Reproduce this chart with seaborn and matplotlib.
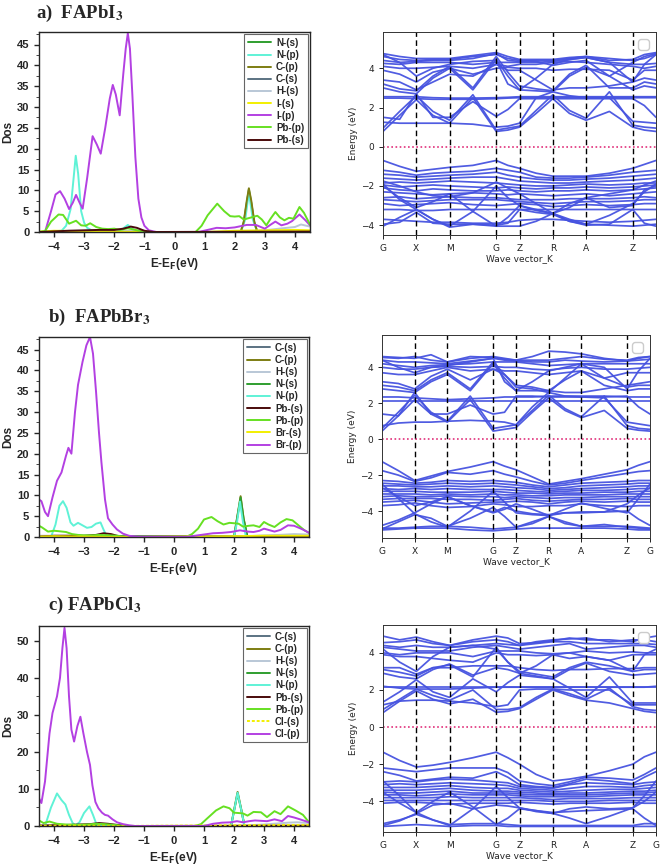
import numpy as np
import pandas as pd
import seaborn as sns
import matplotlib
matplotlib.use("Agg")
import matplotlib.pyplot as plt
from matplotlib.ticker import MultipleLocator

sns.set_style("ticks")
plt.rcParams['font.family'] = ['DejaVu Sans']

# ---------------- DOS data (E-EF in eV, Dos) ----------------
# panel a) FAPbI3
a_Ns_x = [-4.5, 2.2, 2.3, 2.4, 2.47, 2.55, 2.65, 2.75, 4.5]
a_Ns_y = [0, 0, 2.3, 7.0, 10.2, 7.0, 2.3, 0, 0]
a_Np_x = [-4.5, -3.75, -3.6, -3.45, -3.35, -3.28, -3.2, -3.1, -3.0, -2.9, -2.75, -2.5, -1.8, -1.55, -1.35, -1.1,
          2.2, 2.35, 2.47, 2.6, 2.75, 4.5]
a_Np_y = [0, 0.3, 1.5, 5.5, 13, 18.3, 14, 5, 2.2, 1.0, 0.4, 0.3, 0.3, 1.7, 0.5, 0, 0, 3, 9.5, 3, 0, 0]
a_Cp_x = [-4.5, 2.2, 2.3, 2.4, 2.47, 2.55, 2.65, 2.75, 4.5]
a_Cp_y = [0, 0, 2.5, 7.5, 10.5, 7.5, 2.5, 0, 0]
a_Cs_x = [-4.5, 4.5]
a_Cs_y = [0.1, 0.1]
a_Hs_x = [-4.5, -3.5, -2.5, -1.5, -1.0, 2.0, 3.0, 3.6, 4.0, 4.2, 4.5]
a_Hs_y = [0, 0.3, 0.3, 0.3, 0, 0, 0.4, 0.9, 1.2, 1.8, 1.3]
a_Is_x = [-4.5, -4.0, -3.0, -2.0, -1.0, 1.0, 2.0, 3.0, 4.0, 4.5]
a_Is_y = [0.1, 0.3, 0.2, 0.1, 0, 0, 0.3, 0.4, 0.5, 0.4]
a_Ip_x = [-4.5, -4.3, -4.1, -3.95, -3.8, -3.65, -3.5, -3.38, -3.27, -3.15, -3.05, -2.9, -2.72, -2.58, -2.45,
          -2.3, -2.15, -2.05, -1.95, -1.82, -1.7, -1.62, -1.55, -1.48, -1.4, -1.3, -1.2, -1.1, -1.0, -0.85, -0.6,
          0.8, 1.1, 1.4, 1.7, 2.0, 2.4, 2.7, 3.0, 3.2, 3.35, 3.55, 3.75, 3.9, 4.15, 4.35, 4.5]
a_Ip_y = [0, 0, 5.0, 9.0, 9.8, 8.0, 5.5, 7.0, 8.9, 7.0, 5.6, 13, 23.0, 21.0, 18.8,
          25, 32, 35.3, 33, 28.0, 38, 44, 47.7, 44, 33, 18, 8, 3.5, 1.5, 0.4, 0,
          0, 0.5, 1.0, 0.9, 1.1, 1.7, 1.7, 0.8, 1.8, 2.5, 1.6, 2.0, 2.6, 4.2, 2.8, 1.6]
a_Pbp_x = [-4.5, -4.3, -4.1, -3.85, -3.7, -3.5, -3.27, -3.1, -2.95, -2.8, -2.6, -2.4, -2.2, -2.0, -1.8, -1.55,
           -1.3, -1.0, -0.7, 0.7, 0.9, 1.1, 1.42, 1.65, 1.85, 2.0, 2.15, 2.3, 2.5, 2.75, 2.9, 3.05, 3.2, 3.35,
           3.5, 3.65, 3.8, 3.95, 4.15, 4.3, 4.5]
a_Pbp_y = [0, 0.2, 2.5, 4.2, 4.1, 2.0, 2.7, 1.6, 1.5, 2.1, 1.2, 0.8, 0.7, 0.8, 0.5, 0.9,
           0.5, 0.1, 0, 0, 1.5, 4.0, 6.8, 5.0, 3.8, 3.7, 3.8, 3.0, 3.4, 3.9, 3.0, 1.6, 3.3, 4.8,
           3.5, 2.8, 3.4, 3.2, 6.0, 4.6, 1.8]
a_Pbs_x = [-4.5, -3.5, -3.0, -2.5, -2.0, -1.7, -1.45, -1.25, -1.0, -0.7, 4.5]
a_Pbs_y = [0, 0.3, 0.4, 0.5, 0.5, 0.8, 1.3, 1.0, 0.3, 0, 0.1]

# panel b) FAPbBr3
b_Cs_x = [-4.5, 4.5]
b_Cs_y = [0.15, 0.15]
b_Cp_x = [-4.5, 2.0, 2.1, 2.22, 2.32, 2.45, 4.5]
b_Cp_y = [0, 0, 4.5, 9.8, 4.5, 0, 0]
b_Hs_x = [-4.5, -3.5, -2.0, -1.5, 2.0, 3.0, 3.5, 4.0, 4.5]
b_Hs_y = [0.3, 0.3, 0.2, 0, 0, 0.4, 0.5, 0.7, 0.6]
b_Ns_x = [-4.5, 2.0, 2.1, 2.22, 2.32, 2.45, 4.5]
b_Ns_y = [0, 0, 4.3, 9.5, 4.3, 0, 0]
b_Np_x = [-4.5, -4.1, -3.95, -3.82, -3.7, -3.58, -3.45, -3.35, -3.2, -3.05, -2.9, -2.75, -2.6, -2.45, -2.35,
          -2.25, -2.1, 2.0, 2.1, 2.2, 2.3, 2.4, 4.5]
b_Np_y = [0, 0, 3.0, 7.5, 8.6, 7.0, 3.5, 2.7, 3.4, 2.8, 2.2, 2.4, 3.2, 3.5, 1.8, 0.3, 0, 0, 3.5, 8.5, 3.5, 0, 0]
b_Pbs_x = [-4.5, -4.0, -3.0, -2.6, -2.35, -2.1, -1.9, -1.6, 4.5]
b_Pbs_y = [0.1, 0.3, 0.3, 0.5, 0.9, 0.7, 0.3, 0, 0.1]
b_Pbp_x = [-4.5, -4.4, -4.2, -4.0, -3.85, -3.6, -3.4, -3.2, -3.0, -2.7, -2.5, -2.2, -1.9, -1.5, 0.4, 0.6, 0.8,
           1.0, 1.25, 1.45, 1.65, 1.85, 2.0, 2.15, 2.3, 2.5, 2.65, 2.85, 3.0, 3.15, 3.35, 3.55, 3.75, 3.95, 4.15,
           4.35, 4.5]
b_Pbp_y = [2.7, 2.3, 1.3, 1.5, 1.4, 1.2, 0.7, 0.5, 0.4, 0.4, 0.5, 0.4, 0.3, 0, 0, 0.7, 2.0,
           4.2, 4.8, 3.8, 3.0, 3.4, 3.3, 3.2, 2.5, 2.7, 2.8, 2.4, 3.6, 3.0, 2.4, 3.5, 4.3, 4.0, 2.8,
           1.6, 1.0]
b_Brs_x = [-4.5, -4.0, -3.0, -2.0, 2.0, 3.0, 4.5]
b_Brs_y = [0.1, 0.2, 0.1, 0, 0.2, 0.3, 0.3]
b_Brp_x = [-4.5, -4.42, -4.3, -4.2, -4.05, -3.9, -3.75, -3.6, -3.52, -3.42, -3.3, -3.2, -3.05, -2.92, -2.8, -2.7,
           -2.6, -2.5, -2.42, -2.3, -2.2, -2.05, -1.9, -1.7, -1.5, -1.2, 0.4, 0.7, 1.0, 1.3, 1.6, 1.9, 2.2,
           2.45, 2.65, 2.85, 3.0, 3.2, 3.35, 3.55, 3.8, 4.0, 4.2, 4.35, 4.5]
b_Brp_y = [9.0, 8.6, 6.0, 5.0, 9.5, 13.5, 15.5, 19.5, 21.4, 20.0, 30, 36.5, 42, 46, 48, 44,
           35, 25, 18, 9, 4.5, 3.0, 1.8, 0.8, 0.3, 0, 0, 0.3, 0.6, 0.9, 1.0, 1.2, 1.6,
           1.3, 1.2, 1.5, 2.0, 1.6, 1.3, 1.7, 2.8, 2.7, 2.1, 1.6, 1.0]

# panel c) FAPbCl3
c_Cs_x = [-4.5, 4.5]
c_Cs_y = [0.1, 0.1]
c_Cp_x = [-4.5, 1.9, 2.0, 2.12, 2.25, 2.35, 4.5]
c_Cp_y = [0, 0, 4.2, 9.2, 4.2, 0, 0]
c_Hs_x = [-4.5, -3.5, -2.0, -1.5, 2.0, 3.0, 3.8, 4.1, 4.5]
c_Hs_y = [0.2, 0.3, 0.2, 0, 0, 0.4, 0.9, 1.0, 0.8]
c_Ns_x = [-4.5, 1.9, 2.0, 2.12, 2.25, 2.35, 4.5]
c_Ns_y = [0, 0, 4.0, 8.8, 4.0, 0, 0]
c_Np_x = [-4.5, -4.3, -4.1, -3.9, -3.75, -3.62, -3.5, -3.38, -3.28, -3.15, -3.0, -2.82, -2.7, -2.6, -2.52,
          1.9, 2.0, 2.12, 2.25, 2.35, 4.5]
c_Np_y = [0, 0, 5.0, 8.8, 7.0, 5.8, 3.0, 0.8, 0.2, 1.0, 3.5, 5.3, 3.0, 0.8, 0, 0, 4.0, 9.0, 4.0, 0, 0]
c_Pbs_x = [-4.5, -3.5, -2.8, -2.5, -2.2, -1.9, -1.5, 4.5]
c_Pbs_y = [0.1, 0.3, 0.5, 0.8, 0.6, 0.3, 0, 0.1]
c_Pbp_x = [-4.5, -4.35, -4.15, -3.9, -3.6, -3.2, -2.9, -2.6, -2.3, -2.0, -1.6, 0.7, 0.9, 1.1, 1.4, 1.65, 1.85,
           2.0, 2.15, 2.3, 2.45, 2.65, 2.9, 3.1, 3.35, 3.55, 3.8, 4.05, 4.3, 4.5]
c_Pbp_y = [1.5, 0.8, 1.2, 0.6, 0.4, 0.3, 0.4, 0.6, 0.5, 0.3, 0, 0, 0.5, 2.0, 4.2, 5.3, 4.8,
           3.6, 3.5, 3.4, 2.8, 3.8, 3.7, 2.4, 4.0, 3.2, 5.3, 4.2, 3.0, 1.0]
c_Cls_x = [-4.5, -3.0, -2.0, 2.0, 4.5]
c_Cls_y = [0.1, 0.1, 0, 0.2, 0.3]
c_Clp_x = [-4.5, -4.42, -4.3, -4.15, -4.05, -3.9, -3.8, -3.72, -3.65, -3.58, -3.5, -3.42, -3.33, -3.22, -3.12,
           -3.02, -2.9, -2.8, -2.72, -2.62, -2.52, -2.4, -2.3, -2.2, -2.05, -1.9, -1.7, -1.5, -1.3,
           1.0, 1.3, 1.6, 1.9, 2.1, 2.3, 2.5, 2.7, 2.9, 3.1, 3.35, 3.6, 3.8, 4.0, 4.2, 4.5]
c_Clp_y = [7.5, 6.2, 12, 25, 30.5, 35, 40, 48, 53.5, 48, 35, 26, 22.8, 27, 29.5,
           25, 20, 16.5, 11, 6.5, 4.8, 3.6, 3.0, 2.8, 1.8, 1.0, 0.5, 0.2, 0,
           0, 0.6, 0.9, 1.0, 1.3, 1.0, 1.3, 1.5, 1.4, 1.3, 1.8, 1.3, 2.7, 2.3, 1.8, 1.0]

# ---------------- band structure data ----------------
# k path G-X-M-G-Z-R-A-Z-G (with midpoints)
k_grid = [0, 0.5, 1, 1.5, 2, 2.7, 3.4, 3.75, 4.1, 4.6, 5.1, 5.6, 6.1, 6.8, 7.5, 7.85, 8.2]
hs_pos = [0, 1, 2, 3.4, 4.1, 5.1, 6.1, 7.5, 8.2]
hs_labels = ["G", "X", "M", "G", "Z", "R", "A", "Z", "G"]

bands_a = [
    [0.78, 1.6, 2.4, 1.6, 1.2, 2.5, 0.78, 0.85, 1.0, 1.7, 2.45, 1.7, 1.35, 1.8, 1.0, 0.85, 0.78],
    [0.95, 1.8, 2.6, 1.8, 1.35, 2.65, 0.85, 0.95, 1.05, 1.85, 2.65, 1.85, 1.45, 2.8, 1.1, 1.0, 0.95],
    [1.25, 1.2, 1.2, 1.2, 1.2, 1.15, 1.0, 1.05, 1.2, 2.5, 2.8, 2.6, 2.5, 2.5, 1.3, 1.25, 1.2],
    [1.5, 1.4, 2.7, 1.5, 1.5, 2.3, 1.55, 1.9, 2.45, 2.45, 2.45, 2.45, 2.45, 2.45, 2.45, 2.1, 1.5],
    [2.48, 2.48, 2.45, 2.42, 2.42, 2.42, 2.45, 2.48, 2.5, 2.5, 2.5, 2.5, 2.5, 2.5, 2.5, 2.5, 2.5],
    [2.55, 2.55, 2.55, 2.5, 2.48, 2.48, 2.5, 2.52, 2.55, 2.55, 2.55, 2.55, 2.55, 2.55, 2.55, 2.55, 2.55],
    [3.0, 2.8, 2.7, 3.5, 4.0, 2.9, 4.45, 3.6, 2.9, 2.85, 2.8, 3.6, 4.05, 3.6, 2.9, 3.1, 3.0],
    [3.2, 2.95, 2.85, 3.6, 4.1, 3.0, 4.6, 3.8, 3.1, 2.95, 2.85, 3.7, 4.15, 3.0, 3.0, 3.3, 3.2],
    [3.4, 3.3, 2.9, 3.3, 3.7, 3.6, 4.2, 3.9, 3.9, 3.4, 2.9, 3.0, 3.0, 3.1, 3.3, 3.5, 3.4],
    [3.9, 3.7, 3.3, 3.8, 4.0, 3.7, 4.0, 4.05, 4.0, 4.0, 3.9, 3.95, 3.95, 3.9, 3.4, 3.9, 3.9],
    [4.1, 4.0, 4.0, 4.05, 4.1, 4.0, 4.2, 4.1, 4.2, 4.2, 4.3, 4.35, 4.3, 4.2, 4.1, 4.0, 4.1],
    [4.25, 4.2, 4.3, 4.3, 4.3, 4.2, 4.3, 4.3, 4.3, 4.3, 4.35, 4.45, 4.55, 4.3, 4.2, 4.2, 4.25],
    [4.4, 4.3, 4.35, 4.4, 4.4, 4.5, 4.75, 4.4, 4.35, 4.4, 4.4, 4.5, 4.6, 4.5, 4.4, 4.5, 4.7],
    [4.6, 4.45, 4.4, 4.45, 4.45, 4.6, 4.7, 4.5, 4.4, 4.35, 4.15, 4.3, 4.4, 3.6, 4.3, 4.6, 4.75],
    [4.75, 4.6, 4.5, 4.5, 4.5, 4.65, 4.8, 4.6, 4.45, 4.45, 4.45, 4.55, 4.6, 4.4, 4.45, 4.7, 4.8],
    [4.7, 4.3, 3.6, 4.0, 4.2, 4.35, 4.4, 3.2, 2.9, 3.5, 4.2, 4.45, 4.55, 4.3, 3.3, 4.2, 4.7],
    [-0.70, -1.0, -1.25, -1.15, -1.05, -0.95, -0.70, -0.95, -1.10, -1.35, -1.50, -1.50, -1.50, -1.35, -1.10, -0.90, -0.70],
    [-1.20, -1.30, -1.45, -1.35, -1.30, -1.25, -1.10, -1.20, -1.30, -1.55, -1.60, -1.60, -1.55, -1.45, -1.30, -1.25, -1.20],
    [-1.40, -1.45, -1.55, -1.50, -1.45, -1.40, -1.30, -1.45, -1.55, -1.65, -1.70, -1.70, -1.65, -1.60, -1.50, -1.45, -1.40],
    [-1.60, -1.65, -1.70, -1.65, -1.60, -1.55, -1.55, -1.65, -1.75, -1.80, -1.85, -1.85, -1.80, -1.75, -1.70, -1.65, -1.60],
    [-1.85, -1.80, -1.85, -1.80, -1.75, -1.80, -1.85, -1.90, -1.95, -2.00, -2.00, -1.95, -1.90, -1.95, -1.90, -1.85, -1.85],
    [-1.95, -2.05, -2.00, -1.95, -2.00, -2.05, -2.10, -2.05, -2.10, -2.15, -2.10, -2.10, -2.05, -2.10, -2.05, -2.00, -1.95],
    [-2.10, -2.20, -2.25, -2.15, -2.20, -2.25, -2.25, -2.20, -2.25, -2.30, -2.25, -2.25, -2.20, -2.25, -2.20, -2.15, -2.10],
    [-2.30, -2.35, -2.40, -2.45, -2.40, -2.35, -2.40, -2.45, -2.40, -2.45, -2.50, -2.45, -2.40, -2.50, -2.40, -2.35, -2.30],
    [-1.90, -2.70, -3.20, -3.70, -4.05, -3.30, -2.00, -2.60, -3.00, -3.20, -3.40, -3.70, -3.95, -3.50, -2.90, -2.30, -1.90],
    [-2.00, -2.60, -3.10, -2.80, -2.40, -3.30, -4.05, -3.60, -3.00, -3.25, -3.40, -3.10, -2.60, -3.10, -3.00, -2.20, -2.00],
    [-4.05, -3.60, -3.20, -3.70, -4.10, -3.95, -4.00, -3.90, -3.20, -3.35, -3.45, -3.80, -4.00, -3.95, -3.20, -3.90, -4.05],
    [-3.95, -3.85, -3.35, -3.90, -3.95, -3.95, -4.05, -4.05, -4.05, -3.80, -3.40, -3.80, -3.95, -4.00, -4.05, -4.00, -3.95],
    [-3.70, -3.75, -3.80, -3.85, -3.85, -3.90, -3.90, -3.85, -3.75, -3.70, -3.70, -3.75, -3.80, -3.85, -3.80, -3.75, -3.70],
    [-3.20, -3.20, -3.25, -3.25, -3.20, -3.20, -3.20, -3.20, -3.20, -3.20, -3.20, -3.20, -3.20, -3.20, -3.20, -3.20, -3.20],
    [-2.70, -2.75, -2.80, -2.75, -2.70, -2.70, -2.70, -2.75, -2.80, -2.85, -2.90, -2.85, -2.80, -2.80, -2.75, -2.70, -2.70],
    [-2.60, -2.55, -2.65, -2.60, -2.55, -2.60, -2.60, -2.65, -2.70, -2.70, -2.70, -2.65, -2.65, -2.65, -2.60, -2.55, -2.60],
    [-1.75, -2.00, -2.30, -2.50, -2.55, -2.35, -1.80, -2.10, -2.40, -2.90, -3.40, -2.90, -2.60, -2.40, -2.20, -1.95, -1.75],
    [-2.90, -3.00, -2.95, -2.90, -2.85, -2.95, -3.00, -2.95, -2.90, -2.95, -3.05, -3.00, -2.95, -3.00, -2.95, -2.90, -2.90],
]

bands_b = [
    [0.45, 1.3, 2.2, 1.4, 0.95, 2.2, 0.45, 0.55, 0.65, 1.5, 2.3, 1.6, 1.2, 1.6, 0.6, 0.5, 0.45],
    [0.6, 1.5, 2.45, 1.5, 1.0, 2.4, 0.6, 0.7, 0.8, 1.6, 2.45, 1.7, 1.25, 2.4, 0.75, 0.6, 0.55],
    [0.75, 0.9, 0.95, 0.95, 1.0, 1.05, 1.0, 0.95, 0.8, 1.8, 2.6, 2.4, 2.35, 2.3, 0.95, 0.85, 0.75],
    [1.4, 1.3, 2.6, 1.4, 1.4, 1.9, 1.4, 1.5, 2.4, 2.4, 2.35, 2.35, 2.35, 2.35, 2.4, 1.8, 1.4],
    [2.15, 2.15, 2.15, 2.15, 2.15, 2.15, 2.15, 2.15, 2.15, 2.15, 2.15, 2.15, 2.15, 2.15, 2.15, 2.15, 2.15],
    [2.35, 2.35, 2.3, 2.25, 2.2, 2.25, 2.3, 2.35, 2.35, 2.35, 2.4, 2.4, 2.4, 2.4, 2.35, 2.35, 2.35],
    [2.8, 2.7, 2.6, 3.2, 3.6, 2.7, 4.2, 3.4, 2.7, 2.7, 2.7, 3.3, 3.8, 3.0, 2.7, 2.8, 2.8],
    [3.0, 2.9, 2.7, 3.3, 3.7, 2.8, 4.3, 3.6, 2.9, 2.8, 2.6, 3.4, 4.2, 3.4, 2.9, 3.0, 3.0],
    [3.2, 3.1, 2.8, 3.5, 3.9, 3.3, 3.9, 3.6, 3.0, 2.9, 2.7, 2.6, 2.6, 2.8, 3.0, 3.1, 3.2],
    [3.7, 3.6, 3.6, 3.8, 4.0, 3.8, 3.9, 3.8, 3.8, 3.7, 3.6, 3.7, 3.8, 3.4, 3.7, 3.7, 3.7],
    [4.0, 3.9, 3.9, 4.0, 4.05, 4.0, 4.05, 4.0, 4.0, 3.9, 3.85, 3.95, 4.0, 3.9, 3.9, 3.95, 4.0],
    [4.2, 4.1, 4.0, 4.1, 4.15, 4.2, 4.3, 4.3, 4.3, 4.2, 4.1, 4.15, 4.2, 4.2, 4.2, 4.2, 4.2],
    [4.4, 4.3, 4.3, 4.25, 4.2, 4.35, 4.5, 4.4, 4.35, 4.3, 4.3, 4.4, 4.35, 4.3, 4.35, 4.4, 4.45],
    [4.55, 4.5, 4.6, 4.4, 4.3, 4.5, 4.6, 4.5, 4.4, 4.6, 4.9, 4.85, 4.75, 4.5, 4.35, 4.5, 4.6],
    [4.6, 4.55, 4.5, 4.7, 4.3, 4.6, 4.55, 4.45, 4.4, 4.4, 4.4, 4.5, 4.6, 4.45, 4.4, 4.55, 4.6],
    [4.4, 4.0, 3.7, 4.0, 4.1, 4.3, 4.5, 3.2, 2.7, 3.2, 3.8, 4.0, 4.2, 4.0, 2.8, 3.8, 4.5],
    [-1.25, -1.75, -2.30, -2.05, -1.80, -1.55, -1.25, -1.50, -1.70, -2.10, -2.50, -2.35, -2.20, -1.95, -1.70, -1.45, -1.25],
    [-1.75, -2.00, -2.35, -2.15, -1.85, -1.95, -1.75, -1.95, -2.10, -2.35, -2.55, -2.45, -2.30, -2.10, -1.90, -1.80, -1.75],
    [-2.30, -2.35, -2.45, -2.40, -2.30, -2.35, -2.30, -2.35, -2.40, -2.55, -2.65, -2.55, -2.45, -2.40, -2.35, -2.30, -2.30],
    [-2.45, -2.50, -2.55, -2.50, -2.45, -2.50, -2.45, -2.50, -2.55, -2.65, -2.75, -2.70, -2.60, -2.55, -2.50, -2.45, -2.45],
    [-2.60, -2.60, -2.65, -2.65, -2.60, -2.65, -2.60, -2.65, -2.70, -2.75, -2.85, -2.80, -2.75, -2.70, -2.65, -2.60, -2.60],
    [-2.75, -2.80, -2.75, -2.80, -2.75, -2.80, -2.80, -2.80, -2.85, -2.90, -2.95, -2.90, -2.85, -2.85, -2.80, -2.75, -2.75],
    [-2.90, -2.90, -2.90, -2.95, -2.95, -2.95, -2.90, -2.95, -3.00, -3.00, -3.05, -3.00, -3.00, -2.95, -2.95, -2.90, -2.90],
    [-3.05, -3.05, -3.05, -3.10, -3.05, -3.10, -3.05, -3.10, -3.10, -3.15, -3.15, -3.10, -3.10, -3.10, -3.05, -3.05, -3.05],
    [-3.20, -3.15, -3.20, -3.20, -3.15, -3.20, -3.20, -3.25, -3.20, -3.25, -3.30, -3.25, -3.25, -3.20, -3.20, -3.20, -3.20],
    [-3.35, -3.30, -3.30, -3.30, -3.35, -3.35, -3.40, -3.35, -3.30, -3.40, -3.45, -3.40, -3.35, -3.35, -3.30, -3.35, -3.35],
    [-3.50, -3.45, -3.40, -3.50, -3.60, -3.55, -3.50, -3.50, -3.45, -3.50, -3.60, -3.50, -3.45, -3.50, -3.45, -3.50, -3.50],
    [-3.70, -3.65, -3.55, -3.70, -3.80, -3.75, -3.60, -3.65, -3.75, -3.75, -3.70, -3.70, -3.60, -3.70, -3.75, -3.70, -3.70],
    [-2.50, -3.30, -4.15, -4.60, -4.90, -4.00, -2.90, -3.50, -4.10, -4.20, -4.25, -3.90, -3.55, -3.85, -4.10, -3.30, -2.50],
    [-2.70, -3.20, -3.70, -3.50, -3.20, -3.70, -4.10, -3.90, -3.60, -3.90, -4.25, -4.10, -4.05, -4.05, -3.60, -3.10, -2.70],
    [-5.00, -4.60, -4.20, -4.40, -4.85, -4.40, -3.80, -4.30, -4.90, -4.60, -4.30, -4.60, -4.85, -4.75, -4.90, -4.95, -5.00],
    [-4.95, -4.95, -4.90, -4.85, -4.85, -4.90, -5.00, -4.95, -4.90, -4.70, -4.30, -4.70, -4.85, -4.85, -4.85, -4.90, -4.95],
    [-5.05, -5.00, -4.95, -4.95, -4.95, -5.05, -5.10, -5.05, -5.00, -4.95, -4.95, -4.95, -4.95, -4.95, -5.00, -5.05, -5.05],
    [-4.80, -4.50, -4.10, -3.60, -3.20, -3.70, -4.05, -3.80, -4.00, -4.15, -4.20, -4.10, -4.10, -4.05, -4.00, -4.45, -4.80],
]

bands_c = [
    [0.78, 1.4, 1.95, 1.5, 1.25, 1.5, 0.8, 0.85, 1.0, 1.5, 2.0, 1.7, 1.45, 1.3, 1.0, 0.85, 0.78],
    [0.95, 1.5, 2.05, 1.7, 1.45, 2.0, 0.95, 0.95, 1.05, 1.6, 2.05, 1.8, 1.5, 2.1, 1.1, 0.95, 0.9],
    [1.2, 1.4, 1.45, 1.45, 1.4, 1.3, 1.1, 1.2, 2.0, 2.05, 2.05, 2.0, 2.0, 2.0, 1.2, 1.2, 1.2],
    [1.35, 1.9, 2.55, 1.9, 1.6, 2.6, 1.9, 2.4, 2.8, 2.7, 2.6, 2.1, 1.6, 2.7, 1.3, 1.3, 1.3],
    [2.15, 2.15, 2.15, 2.15, 2.15, 2.15, 2.15, 2.15, 2.15, 2.15, 2.15, 2.15, 2.15, 2.15, 2.15, 2.15, 2.15],
    [2.2, 2.1, 2.05, 2.05, 2.05, 2.1, 2.15, 2.15, 2.15, 2.15, 2.15, 2.15, 2.15, 2.15, 2.15, 2.15, 2.2],
    [2.9, 2.7, 2.6, 3.1, 3.4, 2.8, 3.2, 3.1, 2.9, 2.75, 2.6, 3.1, 3.45, 3.0, 2.8, 2.85, 2.9],
    [3.1, 2.95, 2.75, 3.2, 3.35, 2.7, 4.3, 3.5, 3.0, 2.85, 2.7, 3.2, 3.5, 3.3, 3.0, 3.1, 3.1],
    [3.2, 3.2, 2.85, 3.2, 3.2, 3.3, 3.3, 3.3, 3.2, 3.1, 3.05, 3.1, 3.1, 3.15, 3.15, 3.2, 3.2],
    [3.9, 3.8, 3.8, 3.7, 3.6, 3.5, 4.0, 3.9, 3.9, 3.85, 3.9, 3.7, 3.8, 3.6, 3.9, 3.9, 3.9],
    [4.0, 3.9, 4.0, 4.0, 4.0, 3.8, 4.1, 4.1, 4.1, 4.0, 3.95, 4.0, 4.1, 4.0, 4.05, 4.0, 4.0],
    [4.3, 4.2, 4.1, 4.1, 4.1, 4.3, 4.4, 4.3, 4.2, 4.3, 4.4, 4.5, 4.2, 4.3, 4.4, 4.4, 4.3],
    [4.4, 4.3, 4.4, 4.3, 4.3, 4.4, 4.5, 4.45, 4.4, 4.5, 4.6, 4.6, 4.5, 4.5, 4.5, 4.5, 4.45],
    [4.55, 4.6, 4.7, 4.5, 4.4, 4.6, 4.7, 4.6, 4.4, 4.6, 4.7, 4.75, 4.8, 4.6, 4.7, 4.7, 4.6],
    [4.9, 4.7, 4.85, 4.6, 4.4, 4.7, 4.9, 4.8, 4.5, 4.55, 4.65, 4.8, 4.7, 4.7, 4.6, 4.8, 4.9],
    [4.2, 3.5, 3.0, 3.8, 4.3, 4.4, 4.2, 3.5, 2.9, 3.3, 3.9, 4.0, 3.8, 3.6, 3.0, 3.9, 4.2],
    [-1.35, -1.80, -2.15, -2.05, -1.90, -1.65, -1.35, -1.65, -2.00, -2.55, -2.90, -2.80, -2.65, -2.35, -2.00, -1.60, -1.35],
    [-2.20, -2.30, -2.40, -2.30, -2.20, -2.20, -2.20, -2.45, -2.90, -3.05, -3.15, -2.95, -2.70, -2.75, -2.85, -2.55, -2.20],
    [-2.40, -2.60, -2.90, -2.80, -2.70, -2.75, -2.40, -2.70, -3.10, -3.20, -3.25, -3.05, -2.80, -2.90, -3.05, -2.70, -2.40],
    [-2.95, -2.90, -2.95, -2.85, -2.80, -2.85, -2.95, -3.00, -3.20, -3.25, -3.30, -3.10, -3.00, -3.05, -3.10, -3.00, -2.95],
    [-3.10, -3.05, -3.10, -3.05, -3.00, -3.05, -3.10, -3.15, -3.30, -3.35, -3.40, -3.30, -3.20, -3.20, -3.25, -3.15, -3.10],
    [-3.25, -3.25, -3.25, -3.20, -3.15, -3.25, -3.30, -3.30, -3.40, -3.45, -3.50, -3.45, -3.40, -3.35, -3.35, -3.30, -3.25],
    [-3.40, -3.40, -3.40, -3.35, -3.30, -3.40, -3.45, -3.45, -3.50, -3.55, -3.60, -3.55, -3.55, -3.50, -3.45, -3.45, -3.40],
    [-3.50, -3.55, -3.55, -3.50, -3.45, -3.55, -3.55, -3.55, -3.60, -3.65, -3.65, -3.65, -3.65, -3.60, -3.55, -3.55, -3.50],
    [-3.65, -3.65, -3.70, -3.65, -3.60, -3.65, -3.65, -3.65, -3.70, -3.75, -3.75, -3.75, -3.75, -3.70, -3.65, -3.65, -3.65],
    [-3.80, -3.80, -3.80, -3.80, -3.75, -3.80, -3.80, -3.80, -3.80, -3.85, -3.90, -3.85, -3.85, -3.85, -3.80, -3.80, -3.80],
    [-3.95, -3.95, -3.95, -3.95, -3.95, -3.95, -3.95, -3.95, -3.95, -3.95, -4.00, -4.00, -4.00, -3.95, -3.95, -3.95, -3.95],
    [-4.10, -4.05, -4.05, -4.10, -4.15, -4.10, -4.10, -4.10, -4.05, -4.10, -4.15, -4.10, -4.10, -4.10, -4.05, -4.10, -4.10],
    [-2.90, -3.70, -4.60, -5.00, -5.30, -4.40, -3.20, -3.80, -4.35, -4.55, -4.65, -4.40, -4.30, -4.40, -4.35, -3.70, -2.90],
    [-3.50, -4.10, -4.60, -4.00, -3.50, -4.30, -5.25, -4.90, -4.40, -4.50, -4.65, -4.90, -5.20, -4.80, -4.35, -4.00, -3.50],
    [-5.20, -5.00, -4.70, -5.00, -5.25, -5.20, -5.20, -5.25, -5.30, -5.30, -5.30, -5.30, -5.30, -5.30, -5.30, -5.20, -5.20],
    [-5.35, -5.30, -5.25, -5.30, -5.35, -5.30, -5.30, -5.35, -5.35, -5.35, -5.35, -5.35, -5.35, -5.35, -5.35, -5.35, -5.35],
    [-5.30, -5.05, -4.65, -4.20, -4.10, -4.40, -4.20, -4.25, -4.35, -4.50, -4.60, -4.55, -4.50, -4.45, -4.40, -4.90, -5.30],
]

# ---------------- styling ----------------
col_Ns = "#2f9e2f"
col_Np = "#5ff2d6"
col_Cp = "#7d7d12"
col_Cs = "#5b7282"
col_Hs = "#b9c7d6"
col_Xs = "#f2ef00"
col_Xp = "#b340e2"
col_Pbp = "#66e022"
col_Pbs = "#4a0a0a"
band_color = "#4653e0"

W, H = 661, 867
fig = plt.figure(figsize=(W / 100, H / 100), dpi=100)


def rect(l, t, r, b):
    return [l / W, 1 - b / H, (r - l) / W, (b - t) / H]


def dos_panel(box, curves, ymax, ystep, title, title_xy):
    ax = fig.add_axes(rect(*box))
    frames = []
    for name, xs, ys, c in curves:
        frames.append(pd.DataFrame({"E": xs, "Dos": ys, "orbital": name}))
    df = pd.concat(frames, ignore_index=True)
    order = [c[0] for c in curves]
    pal = {c[0]: c[3] for c in curves}
    sns.lineplot(data=df, x="E", y="Dos", hue="orbital", hue_order=order, palette=pal,
                 estimator=None, sort=False, lw=1.4, ax=ax)
    for ln in ax.get_lines():
        if ln.get_color() == col_Xs and "Cl" in title:
            ln.set_linestyle((0, (1.5, 1)))
    ax.set_xlim(-4.5, 4.5)
    ax.set_ylim(0, ymax)
    ax.set_xticks(range(-4, 5))
    ax.yaxis.set_major_locator(MultipleLocator(ystep))
    ax.yaxis.set_minor_locator(MultipleLocator(ystep / 2))
    ax.tick_params(axis="both", labelsize=8, width=1, length=3.5, direction="out")
    ax.tick_params(axis="y", which="minor", length=2)
    for lab in ax.get_xticklabels() + ax.get_yticklabels():
        lab.set_fontweight("bold")
        lab.set_fontfamily("Liberation Sans")
    for sp in ax.spines.values():
        sp.set_linewidth(1.0)
    ax.set_ylabel("Dos", fontsize=8.5, fontweight="bold", family="Liberation Sans", labelpad=2)
    ax.set_xlabel(r"E-E$_\mathbf{F}$(eV)", fontsize=8.5, fontweight="bold",
                  family="Liberation Sans", math_fontfamily="dejavusans", labelpad=3)
    leg = ax.legend(loc="upper right", prop={"weight": "bold", "size": 7, "family": "Liberation Sans"},
                    frameon=True, fancybox=False, edgecolor="#666666", framealpha=1,
                    handlelength=2.4, handletextpad=0.5, labelspacing=0.22, borderpad=0.35,
                    borderaxespad=0.25)
    leg.get_frame().set_linewidth(0.8)
    fig.text(title_xy[0] / W, 1 - title_xy[1] / H, title, fontsize=13.5, fontweight="bold",
             family="Liberation Serif", math_fontfamily="stix", va="center", ha="left")
    return ax


def band_panel(box, bands, ylim, last_label=True):
    ax = fig.add_axes(rect(*box))
    rows = []
    for i, b in enumerate(bands):
        rows.append(pd.DataFrame({"k": k_grid, "E": b, "band": i}))
    df = pd.concat(rows, ignore_index=True)
    sns.lineplot(data=df, x="k", y="E", units="band", estimator=None, sort=False,
                 color=band_color, lw=1.25, alpha=0.95, ax=ax)
    for p in hs_pos[1:-1]:
        ax.axvline(p, color="black", ls=(0, (4, 2.5)), lw=1.0)
    ax.axhline(0, color="#e0307a", ls=(0, (1, 1.5)), lw=1.2)
    ax.set_xlim(hs_pos[0], hs_pos[-1])
    ax.set_ylim(*ylim)
    ax.set_xticks(hs_pos)
    labels = list(hs_labels)
    if not last_label:
        labels[-1] = ""
    ax.set_xticklabels(labels)
    ax.set_yticks([-4, -2, 0, 2, 4])
    ax.set_yticklabels(["\u22124", "\u22122", "0", "2", "4"])
    ax.tick_params(labelsize=6.5, length=3, width=0.7, colors="#222222")
    for sp in ax.spines.values():
        sp.set_linewidth(0.7)
        sp.set_color("#333333")
    ax.set_xlabel("Wave vector_K", fontsize=6.5, labelpad=1)
    ax.set_ylabel("Energy (eV)", fontsize=6.5, labelpad=2)
    ax.legend(handles=[], labels=[], loc="upper right", frameon=True, framealpha=1,
              edgecolor="#cccccc", borderpad=0.4)
    return ax


dos_panel((39, 32, 310, 232),
          [("N-(s)", a_Ns_x, a_Ns_y, col_Ns), ("N-(p)", a_Np_x, a_Np_y, col_Np),
           ("C-(p)", a_Cp_x, a_Cp_y, col_Cp), ("C-(s)", a_Cs_x, a_Cs_y, col_Cs),
           ("H-(s)", a_Hs_x, a_Hs_y, col_Hs), ("I-(s)", a_Is_x, a_Is_y, col_Xs),
           ("I-(p)", a_Ip_x, a_Ip_y, col_Xp), ("Pb-(p)", a_Pbp_x, a_Pbp_y, col_Pbp),
           ("Pb-(s)", a_Pbs_x, a_Pbs_y, col_Pbs)],
          48, 5, r"a)  FAPbI$_\mathbf{3}$", (36, 13))

dos_panel((39, 337, 309, 537),
          [("C-(s)", b_Cs_x, b_Cs_y, col_Cs), ("C-(p)", b_Cp_x, b_Cp_y, col_Cp),
           ("H-(s)", b_Hs_x, b_Hs_y, col_Hs), ("N-(s)", b_Ns_x, b_Ns_y, col_Ns),
           ("N-(p)", b_Np_x, b_Np_y, col_Np), ("Pb-(s)", b_Pbs_x, b_Pbs_y, col_Pbs),
           ("Pb-(p)", b_Pbp_x, b_Pbp_y, col_Pbp), ("Br-(s)", b_Brs_x, b_Brs_y, col_Xs),
           ("Br-(p)", b_Brp_x, b_Brp_y, col_Xp)],
          48, 5, r"b)  FAPbBr$_\mathbf{3}$", (48, 317))

dos_panel((39, 626, 309, 826),
          [("C-(s)", c_Cs_x, c_Cs_y, col_Cs), ("C-(p)", c_Cp_x, c_Cp_y, col_Cp),
           ("H-(s)", c_Hs_x, c_Hs_y, col_Hs), ("N-(s)", c_Ns_x, c_Ns_y, col_Ns),
           ("N-(p)", c_Np_x, c_Np_y, col_Np), ("Pb-(s)", c_Pbs_x, c_Pbs_y, col_Pbs),
           ("Pb-(p)", c_Pbp_x, c_Pbp_y, col_Pbp), ("Cl-(s)", c_Cls_x, c_Cls_y, col_Xs),
           ("Cl-(p)", c_Clp_x, c_Clp_y, col_Xp)],
          54, 10, r"c) FAPbCl$_\mathbf{3}$", (48, 605))

band_panel((383, 32, 656, 235), bands_a, (-4.5, 5.85), last_label=False)
band_panel((382, 335, 650, 538), bands_b, (-5.5, 5.8))
band_panel((383, 625, 656, 832), bands_c, (-5.65, 5.5))

fig.savefig("out.png", dpi=100, facecolor="white")
